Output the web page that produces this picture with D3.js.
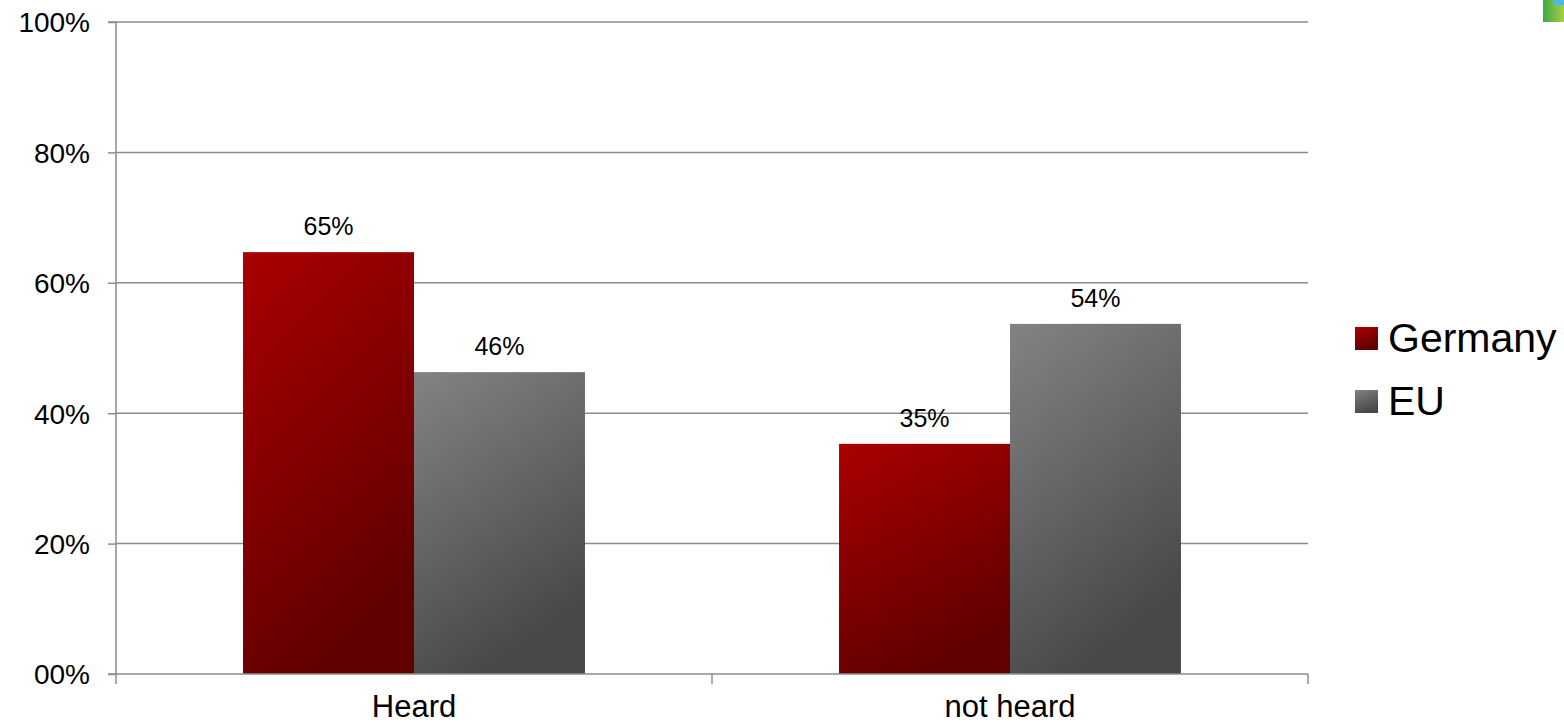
<!DOCTYPE html>
<html><head><meta charset="utf-8">
<script src="https://cdn.jsdelivr.net/npm/d3@7"></script>
<style>body{margin:0;background:#fff}svg{display:block}text{font-family:"Liberation Sans",Arial,sans-serif;fill:#000}</style>
</head><body><svg id="c" width="1564" height="724"></svg>
<script>
const categories = ["Heard", "not heard"];
const seriesNames = ["Germany", "EU"];
const germany = [64.7, 35.3];
const eu = [46.3, 53.7];
const yTicks = [0, 20, 40, 60, 80, 100];
const yTickLabels = ["00%", "20%", "40%", "60%", "80%", "100%"];

const svg = d3.select("#c");
const m = {l:116, r:1308, t:22, b:674};
const x = d3.scaleBand().domain(categories).range([m.l, m.r]).paddingInner(0).paddingOuter(0);
const xs = d3.scaleBand().domain(seriesNames).range([0, x.bandwidth()]).paddingInner(0).paddingOuter(0.743);
const y = d3.scaleLinear().domain([0, 100]).range([m.b, m.t]);

const defs = svg.append("defs");
const grads = {Germany:["#aa0000","#620000"], EU:["#838383","#484848"]};
Object.entries(grads).forEach(([k,c])=>{
  const g = defs.append("linearGradient").attr("id","g"+k).attr("x1",0).attr("y1",0).attr("x2",0.4).attr("y2",1);
  g.append("stop").attr("offset","0%").attr("stop-color",c[0]);
  g.append("stop").attr("offset","100%").attr("stop-color",c[1]);
});
const ig = defs.append("linearGradient").attr("id","gIcon").attr("x1",0).attr("y1",0).attr("x2",1).attr("y2",0);
ig.append("stop").attr("offset","0%").attr("stop-color","#3aa84a");
ig.append("stop").attr("offset","100%").attr("stop-color","#a8d040");

// gridlines
svg.append("g").selectAll("line").data(yTicks.filter(d=>d>0)).join("line")
  .attr("x1", m.l).attr("x2", m.r).attr("y1", d=>y(d)).attr("y2", d=>y(d))
  .attr("stroke","#8c8c8c").attr("stroke-width",1.5);

// y axis
const yAxis = d3.axisLeft(y).tickValues(yTicks).tickSize(8).tickPadding(18)
  .tickFormat((d,i)=>yTickLabels[i]);
const ya = svg.append("g").attr("transform",`translate(${m.l},0)`).call(yAxis);
ya.select(".domain").attr("stroke","#8c8c8c").attr("stroke-width",1.5).attr("d",`M-8,${m.t}H0V${m.b}H-8`);
ya.selectAll(".tick line").attr("stroke","#8c8c8c").attr("stroke-width",1.5);
ya.selectAll(".tick text").style("font-size","28px").attr("dy","0.35em");

// bars
const data = [];
categories.forEach((c,i)=>{ data.push({c, s:"Germany", v:germany[i]}); data.push({c, s:"EU", v:eu[i]}); });
svg.append("g").selectAll("rect").data(data).join("rect")
  .attr("x", d=>x(d.c)+xs(d.s)).attr("width", xs.bandwidth())
  .attr("y", d=>y(d.v)).attr("height", d=>y(0)-y(d.v))
  .attr("fill", d=>`url(#g${d.s})`);
svg.append("g").selectAll("text").data(data).join("text")
  .attr("x", d=>x(d.c)+xs(d.s)+xs.bandwidth()/2).attr("y", d=>y(d.v)-17)
  .attr("text-anchor","middle").style("font-size","25px")
  .text(d=>Math.round(d.v)+"%");

// x axis
const xAxis = d3.axisBottom(x).tickSize(0).tickPadding(0);
const xa = svg.append("g").attr("transform",`translate(0,${m.b})`).call(xAxis);
xa.select(".domain").attr("stroke","#8c8c8c").attr("stroke-width",1.5).attr("d",`M${m.l},0H${m.r}`);
xa.selectAll(".tick text").style("font-size","31px").attr("y",43).attr("dy","0");
const xBounds = [m.l, x("not heard"), m.r];
xa.append("g").selectAll("line").data(xBounds).join("line")
  .attr("x1", d=>d).attr("x2", d=>d).attr("y1",0).attr("y2",10)
  .attr("stroke","#8c8c8c").attr("stroke-width",1.5);

// legend
const lg = svg.append("g").attr("transform","translate(1355,0)");
seriesNames.forEach((s,i)=>{
  const cy = 338 + i*63;
  lg.append("rect").attr("x",0).attr("y",cy-11).attr("width",23).attr("height",23).attr("fill",`url(#g${s})`);
  lg.append("text").attr("x",33).attr("y",cy).attr("dy","0.35em").style("font-size","41px").text(s);
});

// corner icon
svg.append("rect").attr("x",1543).attr("y",0).attr("width",21).attr("height",22).attr("fill","url(#gIcon)");
svg.append("rect").attr("x",1553).attr("y",0).attr("width",11).attr("height",5).attr("fill","#4ab8e8");
</script></body></html>
